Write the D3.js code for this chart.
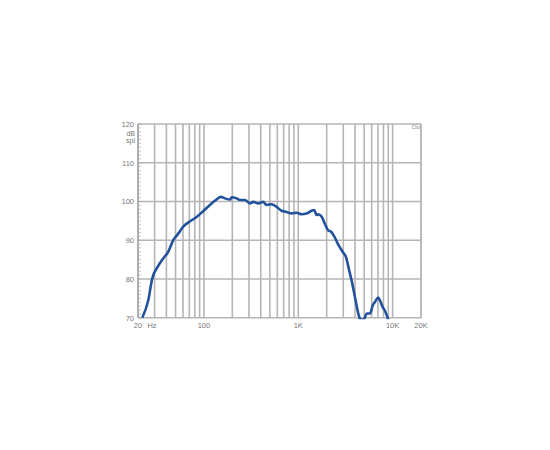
<!DOCTYPE html>
<html><head><meta charset="utf-8">
<script src="https://cdn.jsdelivr.net/npm/d3@7"></script>
<style>body{margin:0;background:#fff}svg{display:block}text{font-family:"Liberation Sans",Arial,sans-serif}</style>
</head><body>
<svg id="c" width="550" height="450"></svg>
<script>
const freqs = [22.2,25.7,28.3,32.3,37,41.8,47.3,53.4,60.3,71.1,83.6,98.2,115.5,136,151,167,189,197,222,241,272,307,333,377,425,461,521,589,665,751,849,960,1084,1225,1384,1473,1566,1623,1766,1908,2064,2230,2414,2610,2953,3200,3460,3740,4050,4380,4560,4930,5340,5780,6160,6520,7050,7340,7760,8400,8800,9100];
const spl = [70,74.5,80.1,83.1,85.3,87,90,91.7,93.5,94.9,96,97.5,99.1,100.5,101.2,100.8,100.5,101.1,100.8,100.4,100.4,99.5,99.9,99.5,99.9,99.1,99.3,98.6,97.6,97.3,96.9,97.1,96.7,96.9,97.6,97.8,96.5,96.7,96.1,94.3,92.6,92.2,90.9,89.2,87,85.7,82.3,78.8,74.5,70.6,69.5,69.5,71.1,71.1,73.2,74.1,75.2,74.5,73,71.5,70.2,69];
const yTicks = [70,80,90,100,110,120];
const xGrid = [20,30,40,50,60,70,80,90,100,200,300,400,500,600,700,800,900,1000,2000,3000,4000,5000,6000,7000,8000,9000,10000,20000];
const xLabels = [[20,"20"],[100,"100"],[1000,"1K"],[10000,"10K"],[20000,"20K"]];

const svg = d3.select("#c");
const x = d3.scaleLog().domain([20,20000]).range([138,421]);
const y = d3.scaleLinear().domain([70,120]).range([317.7,124]);
const gridC = "#b5b5b5", txtC = "#777";

svg.append("g").selectAll("line").data(xGrid).join("line")
  .attr("x1",d=>x(d)).attr("x2",d=>x(d)).attr("y1",y(120)).attr("y2",y(70))
  .attr("stroke",gridC).attr("stroke-width",1.6);
svg.append("g").selectAll("line").data(yTicks).join("line")
  .attr("x1",x(20)).attr("x2",x(20000)).attr("y1",d=>y(d)).attr("y2",d=>y(d))
  .attr("stroke",gridC).attr("stroke-width",1.6);
// left axis with minor ticks
svg.append("line").attr("x1",x(20)).attr("x2",x(20)).attr("y1",y(120)).attr("y2",y(70)).attr("stroke","#999").attr("stroke-width",1);
svg.append("g").selectAll("line").data(d3.range(70,121,1)).join("line")
  .attr("x1",x(20)).attr("x2",x(20)+3).attr("y1",d=>y(d)).attr("y2",d=>y(d))
  .attr("stroke","#aaa").attr("stroke-width",0.7);
// right dotted edge
svg.append("line").attr("x1",x(20000)).attr("x2",x(20000)).attr("y1",y(120)).attr("y2",y(70))
  .attr("stroke","#999").attr("stroke-width",1).attr("stroke-dasharray","1,1.5");

svg.append("g").selectAll("text").data(yTicks).join("text")
  .attr("x",134).attr("y",d=>y(d)+3).attr("text-anchor","end")
  .attr("font-size",7.5).attr("fill",txtC).text(d=>d);
svg.append("text").attr("x",135).attr("y",136).attr("text-anchor","end").attr("font-size",7).attr("fill",txtC).text("dB");
svg.append("text").attr("x",135).attr("y",143).attr("text-anchor","end").attr("font-size",7).attr("fill",txtC).text("spl");
svg.append("g").selectAll("text").data(xLabels).join("text")
  .attr("x",d=>x(d[0])).attr("y",328).attr("text-anchor","middle")
  .attr("font-size",7.5).attr("fill",txtC).text(d=>d[1]);
svg.append("text").attr("x",152).attr("y",328).attr("text-anchor","middle").attr("font-size",7.5).attr("fill",txtC).text("Hz");
svg.append("text").attr("x",416).attr("y",129).attr("text-anchor","middle").attr("font-size",5).attr("fill","#888").text("Clio");

svg.append("clipPath").attr("id","cp").append("rect")
  .attr("x",x(20)).attr("y",y(120)).attr("width",x(20000)-x(20)).attr("height",y(70)-y(120)+1.5);
const line = d3.line().x(d=>x(d[0])).y(d=>y(d[1])).curve(d3.curveMonotoneX);
svg.append("path").datum(freqs.map((f,i)=>[f,spl[i]])).attr("clip-path","url(#cp)")
  .attr("d",line).attr("fill","none").attr("stroke","#22529c").attr("stroke-width",2.6)
  .attr("stroke-linejoin","round");
</script>
</body></html>
